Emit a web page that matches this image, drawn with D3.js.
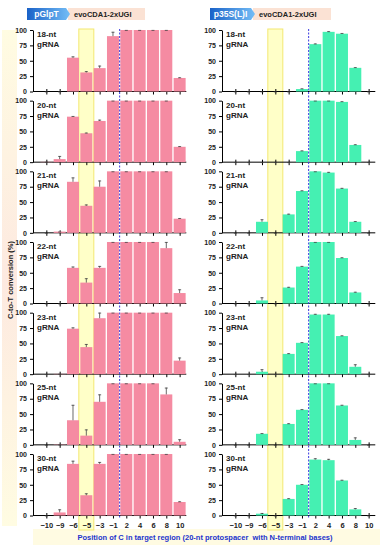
<!DOCTYPE html>
<html lang="en">
<head>
    <meta charset="UTF-8">
    <title>C-to-T conversion</title>
    <style>
        body {
            margin: 0;
            background: white;
        }
        svg text {
            font-family: "Liberation Sans", Arial, sans-serif;
            font-weight: bold;
        }
        .axis path, .axis line {
            stroke: black;
            stroke-width: 1;
        }
        .axis text {
            font-size: 7px;
            fill: #222;
        }
    </style>
    <script src="https://d3js.org/d3.v7.min.js"></script>
</head>
<body>
    <div id="chart"></div>

    <script>
        // categories
        const positions = ["\u221210", "\u22129", "\u22126", "\u22125", "\u22123", "\u22121", "2", "4", "6", "8", "10"];
        const gRNAs = ["18-nt", "20-nt", "21-nt", "22-nt", "23-nt", "25-nt", "30-nt"];
        const yTicks = [0, 25, 50, 75, 100];

        // pGlpT promoter, mean and SD per gRNA length
        const glptMean = [
            [0, 0, 55, 31, 38, 90, 100, 100, 100, 100, 22],
            [0.5, 5, 74, 47, 67, 100, 100, 100, 100, 100, 25],
            [0, 2, 83, 44, 75, 100, 100, 100, 100, 100, 23],
            [0, 0, 58, 34, 58, 100, 100, 100, 100, 90, 17],
            [0, 0.5, 74, 44, 91, 100, 100, 100, 100, 100, 22],
            [0, 0.5, 40, 15, 70, 100, 100, 100, 100, 82, 5],
            [0, 5, 84, 33, 84, 100, 100, 100, 100, 100, 22]
        ];
        const glptSD = [
            [0, 0, 2, 2, 4, 7, 0, 0, 0, 0, 1],
            [0, 5, 1, 1, 2, 0, 0, 0, 0, 0, 1],
            [0, 0, 7, 2, 10, 0, 0, 0, 0, 0, 1],
            [0, 0, 2, 7, 3, 0, 0, 0, 0, 10, 6],
            [0, 0, 2, 5, 9, 0, 0, 0, 0, 0, 5],
            [0, 0, 25, 10, 12, 0, 0, 0, 0, 11, 4],
            [0, 5, 5, 3, 3, 0, 0, 0, 0, 0, 1]
        ];

        // p35S(L)I promoter
        const p35sMean = [
            [0, 0, 0, 0, 0, 4, 77, 97, 94, 38.5, 0],
            [0, 0, 0, 0, 0, 18, 100, 100, 98, 28, 0],
            [0, 0, 18, 0, 30, 68, 100, 98, 72, 18, 0],
            [0, 0, 5, 0, 26, 60, 100, 100, 74, 18, 0],
            [0, 0, 4, 0, 33, 51, 97, 97, 62, 12, 0],
            [0, 0, 18, 0, 34, 57, 100, 100, 64, 8, 0],
            [0, 0, 3, 0, 27, 50, 91, 90, 57, 10, 0]
        ];
        const p35sSD = [
            [0, 0, 0, 0, 0, 1, 1, 1, 1, 1, 0],
            [0, 0, 0, 0, 0, 1, 0, 0, 1, 1, 0],
            [0, 0, 4, 0, 1, 1, 0, 1, 1, 1, 0],
            [0, 0, 5, 0, 1, 1, 0, 0, 1, 1, 0],
            [0, 0, 4, 0, 1, 1, 1, 1, 1, 4, 0],
            [0, 0, 1, 0, 1, 1, 0, 0, 1, 4, 0],
            [0, 0, 1, 0, 1, 1, 2, 2, 1, 2, 0]
        ];

        const width = 380;
        const height = 550;
        const step = 13.33;
        const panelTop = 30;
        const panelGap = 70.67;
        const panelH = 61.5;

        const svg = d3.select('#chart')
            .append('svg')
            .attr('width', width)
            .attr('height', height);

        const defs = svg.append('defs');
        const blueGrad = defs.append('linearGradient').attr('id', 'blueGrad');
        blueGrad.append('stop').attr('offset', '0%').attr('stop-color', '#1a62c8');
        blueGrad.append('stop').attr('offset', '100%').attr('stop-color', '#74bdf6');
        const sideGrad = defs.append('linearGradient').attr('id', 'sideGrad')
            .attr('x1', 0).attr('x2', 0).attr('y1', 0).attr('y2', 1);
        sideGrad.append('stop').attr('offset', '0%').attr('stop-color', '#fffce2');
        sideGrad.append('stop').attr('offset', '50%').attr('stop-color', '#fde9e0');
        sideGrad.append('stop').attr('offset', '100%').attr('stop-color', '#fffce2');

        // side strip and y title
        svg.append('rect')
            .attr('x', 2).attr('y', 30).attr('width', 15).attr('height', 496)
            .attr('fill', 'url(#sideGrad)');
        svg.append('text')
            .attr('transform', 'translate(12.5,280) rotate(-90)')
            .attr('text-anchor', 'middle')
            .style('font-size', '7.5px')
            .attr('fill', '#222')
            .text('C-to-T conversion (%)');

        // x title strip
        svg.append('rect')
            .attr('x', 33).attr('y', 529).attr('width', 347).attr('height', 16)
            .attr('fill', '#fffbe2');
        svg.append('text')
            .attr('x', 205).attr('y', 540)
            .attr('text-anchor', 'middle')
            .style('font-size', '7.5px')
            .attr('fill', '#2233cc')
            .text('Position of C in target region (20-nt protospacer\u00a0 with N-terminal bases)');

        function header(x, blueW, peachW, promoter) {
            const g = svg.append('g').attr('transform', `translate(${x},8)`);
            g.append('rect')
                .attr('x', blueW - 2).attr('y', 0).attr('width', peachW).attr('height', 12)
                .attr('fill', '#fbe2d4');
            g.append('path')
                .attr('d', `M0,0H${blueW - 4}L${blueW},6L${blueW - 4},12H0Z`)
                .attr('fill', 'url(#blueGrad)');
            g.append('text')
                .attr('x', (blueW - 4) / 2).attr('y', 9.2)
                .attr('text-anchor', 'middle')
                .style('font-size', '8.5px')
                .attr('fill', 'white')
                .text(promoter);
            g.append('text')
                .attr('x', blueW + 4).attr('y', 9)
                .style('font-size', '7.5px')
                .attr('fill', '#222')
                .text('evoCDA1-2xUGI');
        }
        header(27, 43, 77, 'pGlpT');
        header(210, 45, 78, 'p35S(L)I');

        function column(x0, means, sds, color) {
            const x = d3.scalePoint()
                .domain(positions)
                .range([x0 + step, x0 + 11 * step]);
            const xEnd = x0 + 11.5 * step;
            const barW = step * 0.9;
            const firstTop = panelTop;
            const lastBottom = panelTop + (gRNAs.length - 1) * panelGap + panelH;

            // highlight box around -5
            svg.append('rect')
                .attr('x', x('\u22125') - 7.5)
                .attr('y', firstTop - 1)
                .attr('width', 15)
                .attr('height', 531 - firstTop)
                .attr('fill', '#ffffc8')
                .attr('stroke', '#f3e873')
                .attr('stroke-width', 1);

            gRNAs.forEach((name, i) => {
                const top = panelTop + i * panelGap;
                const y = d3.scaleLinear().domain([0, 100]).range([top + panelH, top]);
                const g = svg.append('g');

                const xAxis = d3.axisBottom(x).tickSize(3).tickSizeOuter(0);
                const ax = g.append('g')
                    .attr('class', 'axis')
                    .attr('transform', `translate(0,${y(0)})`)
                    .call(xAxis);
                ax.select('.domain').remove();
                ax.selectAll('.tick line').attr('y1', -2.5);
                ax.selectAll('.tick text')
                    .attr('dy', '0.9em')
                    .style('font-size', '7.5px')
                    .style('display', i === gRNAs.length - 1 ? null : 'none');
                g.append('line')
                    .attr('x1', x0).attr('x2', xEnd)
                    .attr('y1', y(0)).attr('y2', y(0))
                    .attr('stroke', 'black');

                const yAxis = d3.axisLeft(y).tickValues(yTicks).tickSize(3).tickSizeOuter(0);
                g.append('g')
                    .attr('class', 'axis')
                    .attr('transform', `translate(${x0},0)`)
                    .call(yAxis);

                const rows = positions.map((p, j) => ({ p: p, v: means[i][j], e: sds[i][j] }));

                g.selectAll('rect.bar')
                    .data(rows)
                    .join('rect')
                    .attr('class', 'bar')
                    .attr('x', d => x(d.p) - barW / 2)
                    .attr('y', d => y(d.v))
                    .attr('width', barW)
                    .attr('height', d => y(0) - y(d.v))
                    .attr('fill', color);

                g.selectAll('line.err')
                    .data(rows)
                    .join('line')
                    .attr('class', 'err')
                    .attr('x1', d => x(d.p)).attr('x2', d => x(d.p))
                    .attr('y1', d => y(d.v)).attr('y2', d => y(d.v + d.e))
                    .attr('stroke', '#444').attr('stroke-width', 0.8);
                g.selectAll('line.cap')
                    .data(rows)
                    .join('line')
                    .attr('class', 'cap')
                    .attr('x1', d => x(d.p) - 1.5).attr('x2', d => x(d.p) + 1.5)
                    .attr('y1', d => y(d.v + d.e) + 0.4).attr('y2', d => y(d.v + d.e) + 0.4)
                    .attr('stroke', '#444').attr('stroke-width', 0.8);

                const label = g.append('text')
                    .attr('x', x0 + 4)
                    .attr('y', top + 7)
                    .style('font-size', '8px')
                    .attr('fill', '#222');
                label.append('tspan').attr('x', x0 + 4).text(name);
                label.append('tspan').attr('x', x0 + 4).attr('dy', 10).text('gRNA');
            });

            // boundary between -1 and 2
            const mid = (x('\u22121') + x('2')) / 2;
            svg.append('line')
                .attr('x1', mid).attr('x2', mid)
                .attr('y1', firstTop - 1).attr('y2', lastBottom + 2)
                .attr('stroke', '#3a3ae0')
                .attr('stroke-width', 1)
                .attr('stroke-dasharray', '2,1.5');
        }

        column(33, glptMean, glptSD, '#f58ba2');
        column(222, p35sMean, p35sSD, '#45f0b2');
    </script>
</body>
</html>
